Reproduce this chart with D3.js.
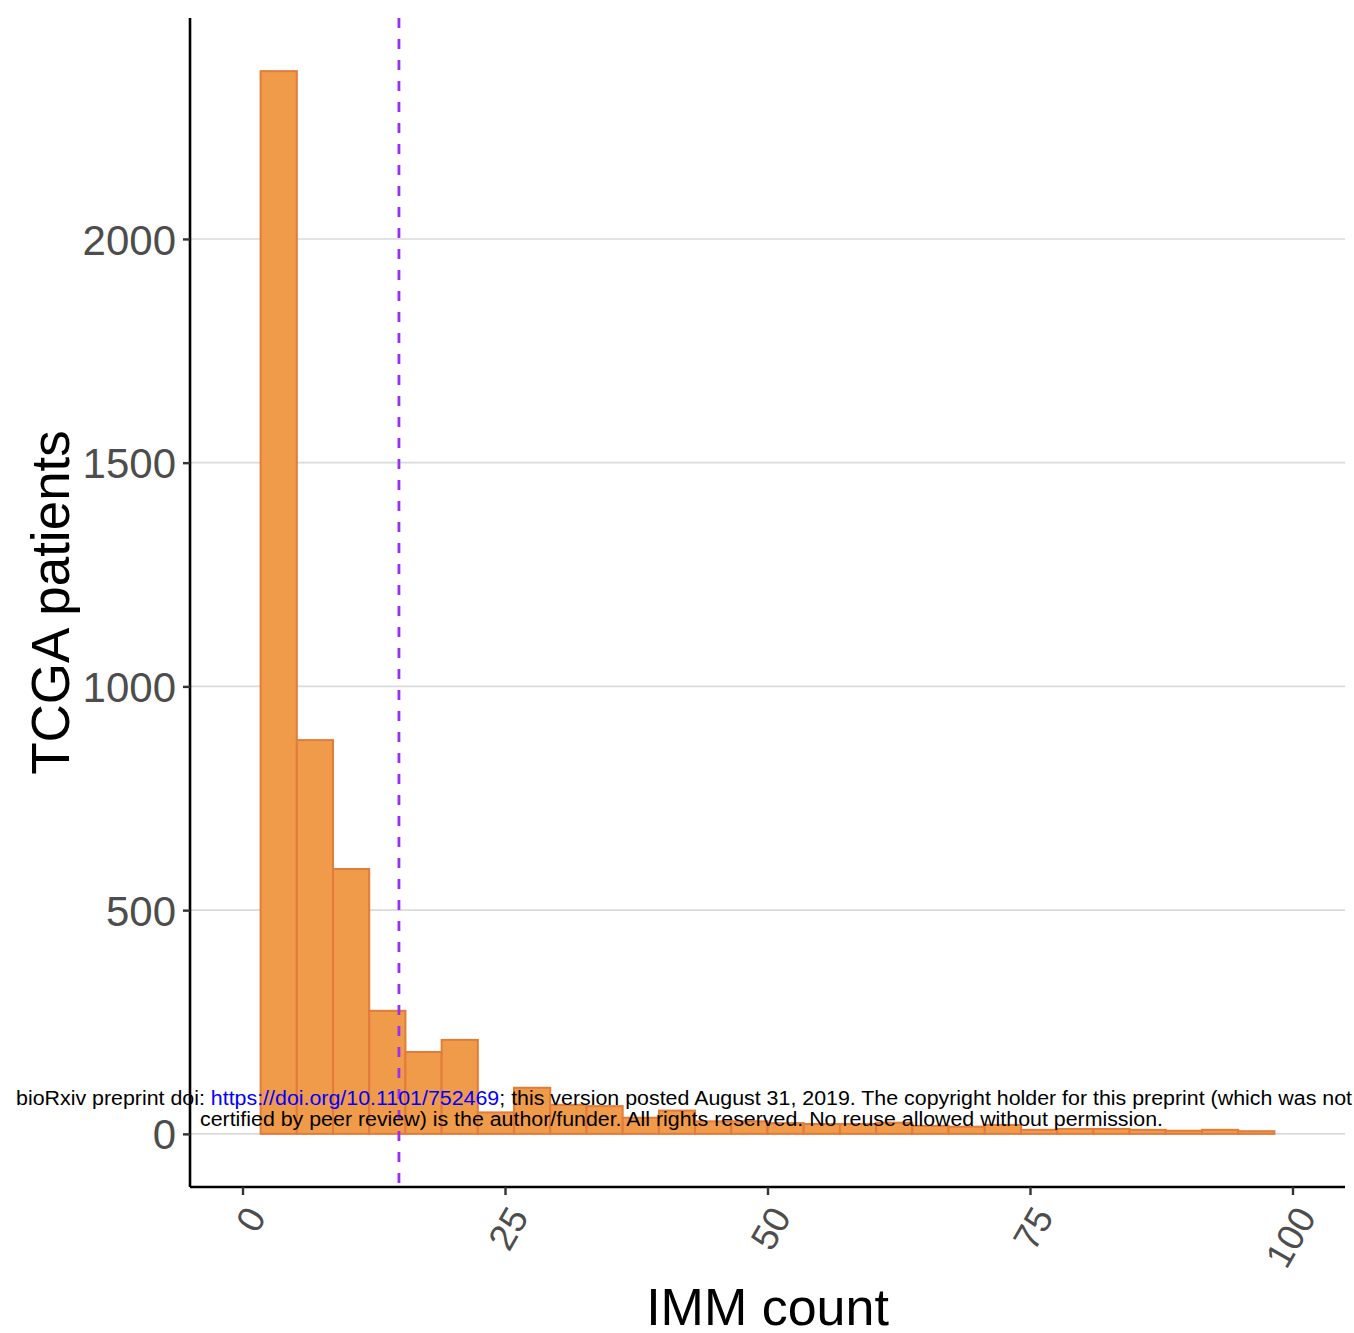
<!DOCTYPE html>
<html>
<head>
<meta charset="utf-8">
<script src="https://cdn.jsdelivr.net/npm/d3@7"></script>
<style>
body { margin: 0; background: #fff; }
text { font-family: "Liberation Sans", Arial, Helvetica, sans-serif; }
</style>
</head>
<body>
<script>
// histogram of IMM counts, 30 bins over [0,100] (first bin empty, last dropped)
var counts = [2375, 880, 592, 275, 183, 210, 48, 103, 65, 62, 36, 52, 28, 28,
	24, 22, 22, 25, 18, 16, 20, 9, 11, 11, 9, 7, 9, 6];
var xTicks = [0, 25, 50, 75, 100];
var yTicks = [0, 500, 1000, 1500, 2000];
var cutoff = 14.9; // dashed line
var binWidth = 100 / 29;

var width = 1354, height = 1333;
var plotLeft = 190, plotRight = 1345, plotTop = 18, plotBottom = 1187;

var svg = d3.select("body")
	.append("svg")
	.attr("width", width)
	.attr("height", height);

var x = d3.scaleLinear().domain([-5, 105]).range([plotLeft, plotRight]);
var yMax = d3.max(counts);
var y = d3.scaleLinear().domain([-0.05 * yMax, 1.05 * yMax]).range([plotBottom, plotTop]);

// grid
svg.append("g")
	.selectAll("line")
	.data(yTicks)
	.enter().append("line")
	.attr("x1", plotLeft).attr("x2", plotRight)
	.attr("y1", function(d) { return y(d); })
	.attr("y2", function(d) { return y(d); })
	.attr("stroke", "#dadada")
	.attr("stroke-width", 1.6);

// bars
svg.append("g")
	.selectAll("rect")
	.data(counts)
	.enter().append("rect")
	.attr("x", function(d, i) { return x((i + 0.5) * binWidth); })
	.attr("width", function(d, i) { return x((i + 1.5) * binWidth) - x((i + 0.5) * binWidth); })
	.attr("y", function(d) { return y(d); })
	.attr("height", function(d) { return y(0) - y(d); })
	.attr("fill", "#f09b4a")
	.attr("stroke", "#e27b3c")
	.attr("stroke-width", 2);

// cutoff line
svg.append("line")
	.attr("x1", x(cutoff)).attr("x2", x(cutoff))
	.attr("y1", plotTop).attr("y2", plotBottom)
	.attr("stroke", "#9b2ff0")
	.attr("stroke-width", 2.8)
	.attr("stroke-dasharray", "10,11");

// axes
var xAxis = svg.append("g")
	.attr("transform", "translate(0," + plotBottom + ")")
	.call(d3.axisBottom(x).tickValues(xTicks).tickSize(8).tickSizeOuter(0));
xAxis.select(".domain").attr("stroke", "#000").attr("stroke-width", 2.6)
	.attr("d", "M" + plotLeft + ",0H" + plotRight);
xAxis.selectAll(".tick line").attr("stroke", "#333").attr("stroke-width", 2.4);
xAxis.selectAll(".tick text")
	.attr("fill", "#4d4d4d")
	.attr("font-size", 37)
	.attr("text-anchor", "end")
	.attr("dy", null)
	.attr("y", 0)
	.attr("transform", "translate(24,30) rotate(-60)");

var yAxis = svg.append("g")
	.attr("transform", "translate(" + plotLeft + ",0)")
	.call(d3.axisLeft(y).tickValues(yTicks).tickFormat(d3.format("d")).tickSize(7).tickSizeOuter(0).tickPadding(7));
yAxis.select(".domain").attr("stroke", "#000").attr("stroke-width", 2.6)
	.attr("d", "M0," + plotTop + "V" + plotBottom);
yAxis.selectAll(".tick line").attr("stroke", "#333").attr("stroke-width", 2.4);
yAxis.selectAll(".tick text")
	.attr("fill", "#4d4d4d")
	.attr("font-size", 42)
	.attr("dy", "0.36em");

// titles
svg.append("text")
	.attr("x", (x(0) + x(100)) / 2)
	.attr("y", 1325)
	.attr("text-anchor", "middle")
	.attr("font-size", 52)
	.text("IMM count");
svg.append("text")
	.attr("transform", "translate(69," + (plotTop + plotBottom) / 2 + ")rotate(-90)")
	.attr("text-anchor", "middle")
	.attr("font-size", 53)
	.text("TCGA patients");

// bioRxiv stamp
var stamp = svg.append("g").attr("font-size", 19.5).attr("fill", "#000");
var l1 = stamp.append("text").attr("x", 16).attr("y", 1105)
	.attr("textLength", 1336).attr("lengthAdjust", "spacingAndGlyphs");
l1.append("tspan").text("bioRxiv preprint doi: ");
l1.append("tspan").attr("fill", "#0000ff").text("https://doi.org/10.1101/752469");
l1.append("tspan").text("; this version posted August 31, 2019. The copyright holder for this preprint (which was not");
stamp.append("text").attr("x", 200).attr("y", 1126)
	.attr("textLength", 963).attr("lengthAdjust", "spacingAndGlyphs")
	.text("certified by peer review) is the author/funder. All rights reserved. No reuse allowed without permission.");
</script>
</body>
</html>
